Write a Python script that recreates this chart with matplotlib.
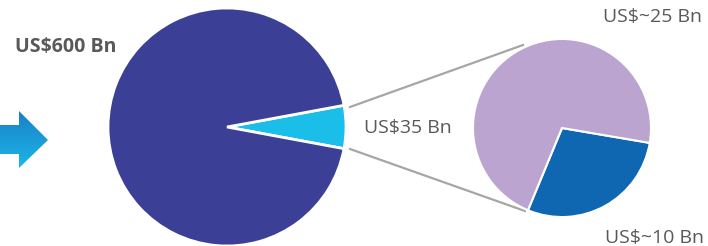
import matplotlib.pyplot as plt
import numpy as np
from matplotlib.patches import Polygon

plt.rcParams['font.family'] = ['Open Sans', 'DejaVu Sans']

# big pie: total market and the segment
big_values = [35, 565]
big_colors = ["#1bbde9", "#3b4096"]
# zoomed pie: split of the segment
small_values = [10, 25]
small_colors = ["#0e67b0", "#bba4cf"]

total_label = "US$600 Bn"
segment_label = "US$35 Bn"
small_labels = ["US$~10 Bn", "US$~25 Bn"]

W, H = 708, 246
fig = plt.figure(figsize=(W / 100, H / 100), dpi=100)
ax = fig.add_axes([0, 0, 1, 1])

big_c, big_r = (227, 119), 119
small_c, small_r = (562, 118), 89
big_start = -big_values[0] / sum(big_values) * 180

# connector lines (under the small pie)
ax.plot([350, 523], [139, 201], color="#a6a6a6", lw=1.6, zorder=1)
ax.plot([350, 525], [97, 35], color="#a6a6a6", lw=1.6, zorder=1)

ax.pie(big_values, colors=big_colors, startangle=big_start, center=big_c,
       radius=big_r, explode=[0.012, 0],
       wedgeprops=dict(edgecolor="white", linewidth=2))
ax.pie(small_values, colors=small_colors, startangle=-112.5, center=small_c,
       radius=small_r, explode=[0.035, 0],
       wedgeprops=dict(edgecolor="white", linewidth=1.5))

txt = "#595959"
ax.text(15, 199, total_label, fontsize=14, fontweight="bold", color=txt,
        va="center", ha="left")
ax.text(364, 118, segment_label, fontsize=14, color=txt, va="center", ha="left")
ax.text(702, 229, small_labels[1], fontsize=14, color=txt, va="center", ha="right")
ax.text(704, 8, small_labels[0], fontsize=14, color=txt, va="center", ha="right")

# arrow with gradient fill
arrow = Polygon([(0, 121), (19, 121), (19, 135), (48, 106), (19, 78),
                 (19, 92), (0, 92)], closed=True, facecolor="none",
                edgecolor="none")
ax.add_patch(arrow)
grad = np.linspace(0, 1, 100).reshape(-1, 1)
im = ax.imshow(grad, cmap=plt.matplotlib.colors.LinearSegmentedColormap.from_list(
    "arr", ["#1cb6e8", "#1a80c6"]), extent=(0, 48, 78, 135), origin="lower",
    aspect="auto", zorder=2)
im.set_clip_path(arrow)

ax.set_xlim(0, W)
ax.set_ylim(0, H)
ax.set_aspect("equal")
ax.axis("off")
fig.savefig("out.png", dpi=100)
